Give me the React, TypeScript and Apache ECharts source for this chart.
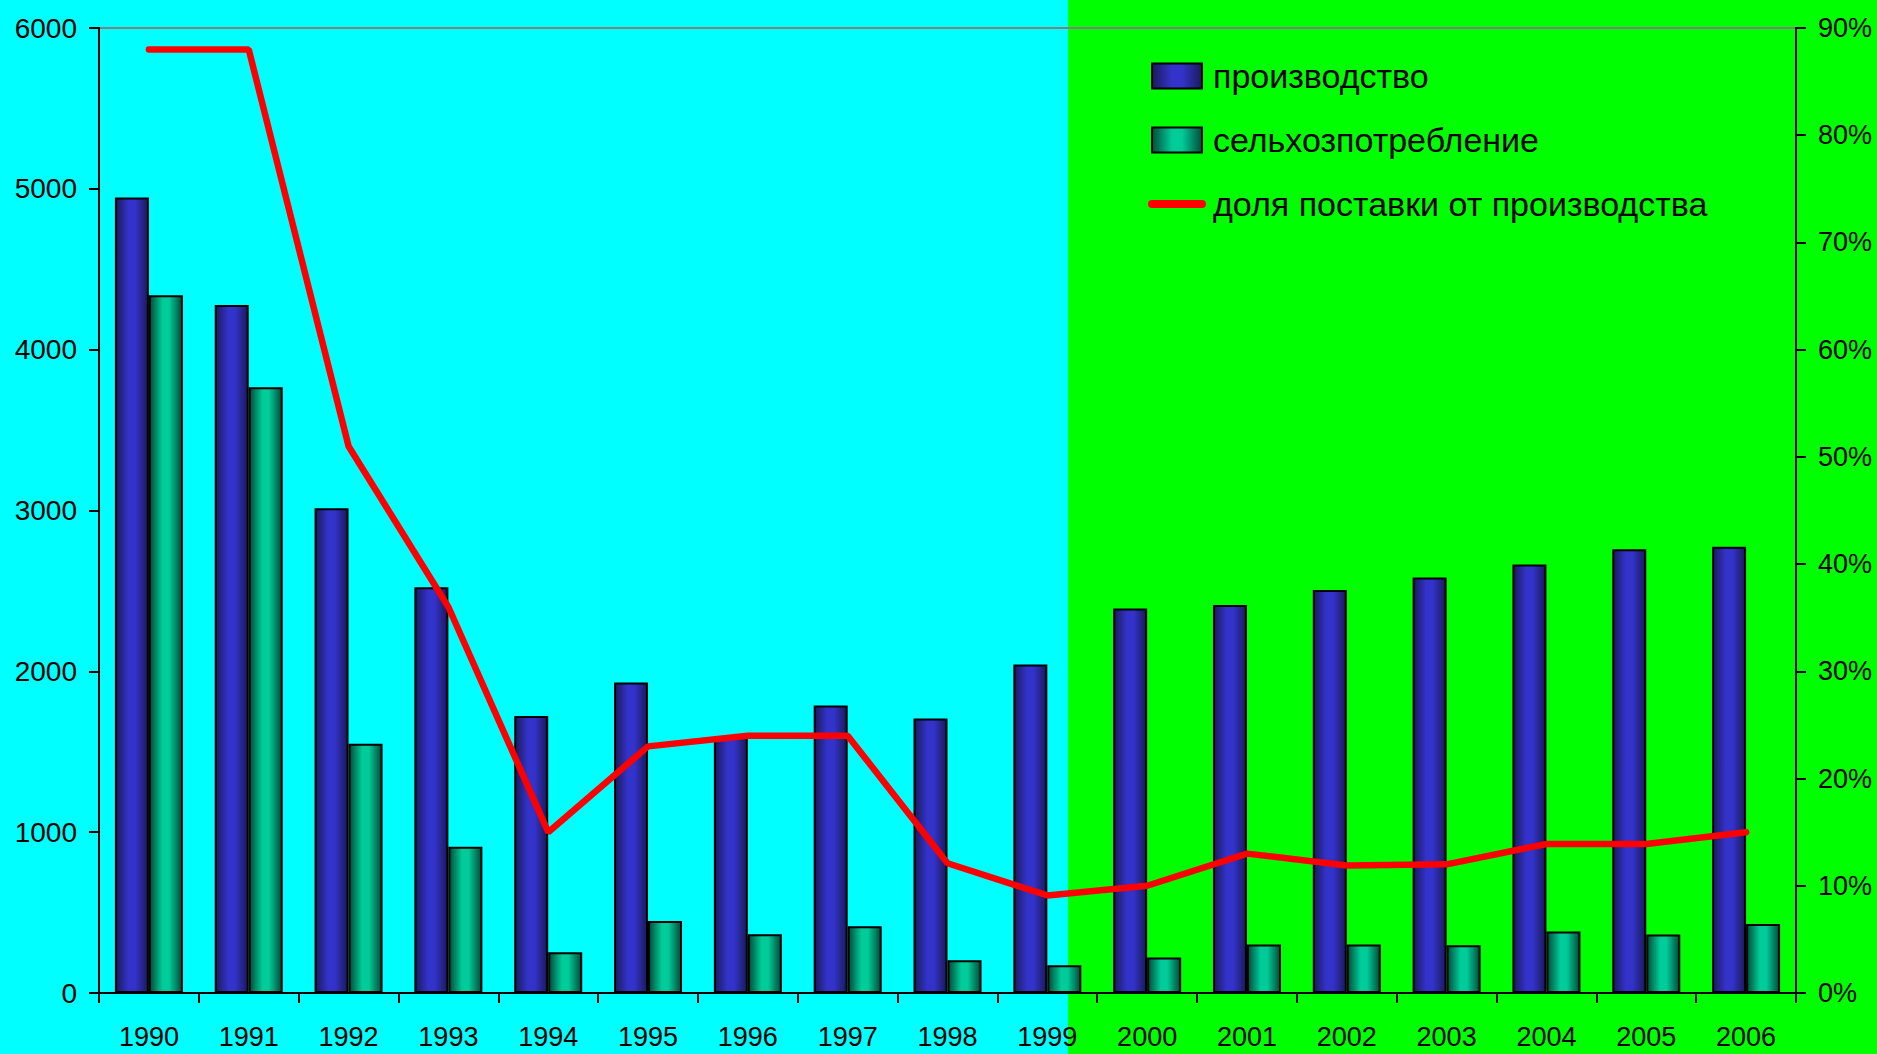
import React, { useEffect, useRef } from "react";
import * as echarts from "echarts";

const years = ["1990", "1991", "1992", "1993", "1994", "1995", "1996", "1997", "1998", "1999", "2000", "2001", "2002", "2003", "2004", "2005", "2006"];
const production = [4946, 4277, 3014, 2523, 1723, 1930, 1590, 1788, 1707, 2043, 2391, 2412, 2505, 2584, 2665, 2759, 2775];
const agriConsumption = [4339, 3767, 1550, 910, 253, 448, 365, 415, 203, 172, 220, 301, 301, 297, 383, 363, 429];
const supplyShare = [88, 88, 51, 36, 15, 23, 24, 24, 12.1, 9.1, 10, 13, 11.9, 12, 13.9, 13.9, 15];

const seriesNames = ["производство", "сельхозпотребление", "доля поставки от производства"];
const leftTicks = { min: 0, max: 6000, interval: 1000 };
const rightTicks = { min: 0, max: 90, interval: 10 };

const FONT = "'Liberation Sans', Arial, sans-serif";

export default function App() {
  const ref = useRef<HTMLDivElement>(null);
  useEffect(() => {
    if (!ref.current) return;
    const chart = echarts.init(ref.current, null, { renderer: "svg" });
    const blueGrad = new echarts.graphic.LinearGradient(0, 0, 1, 0, [
      { offset: 0, color: "#1a1a5a" },
      { offset: 0.4, color: "#3333cc" },
      { offset: 0.6, color: "#3333cc" },
      { offset: 1, color: "#1a1a5a" },
    ]);
    const greenGrad = new echarts.graphic.LinearGradient(0, 0, 1, 0, [
      { offset: 0, color: "#004d3a" },
      { offset: 0.4, color: "#00cc99" },
      { offset: 0.6, color: "#00cc99" },
      { offset: 1, color: "#004d3a" },
    ]);
    const axisLine = { show: true, lineStyle: { color: "#000", width: 2 } };
    const tick = { show: true, length: 10, lineStyle: { color: "#000", width: 2 } };
    chart.setOption({
      animation: false,
      backgroundColor: "#00ff00",
      textStyle: { fontFamily: FONT, color: "#000" },
      graphic: [
        {
          type: "rect",
          left: 0,
          top: 0,
          silent: true,
          z: -10,
          shape: { width: 1068, height: 1054 },
          style: { fill: "#00ffff" },
        },
      ],
      grid: {
        left: 99,
        right: 81,
        top: 28,
        bottom: 61,
        outerBoundsMode: "none",
        containLabel: false,
        show: true,
        backgroundColor: "transparent",
        borderColor: "#808080",
        borderWidth: 2,
      },
      legend: {
        orient: "vertical",
        left: 1143,
        top: 52,
        itemWidth: 50,
        itemHeight: 25,
        itemGap: 26,
        textStyle: { fontFamily: FONT, fontSize: 34, color: "#000", lineHeight: 38, padding: [0, 0, 0, 6] },
        data: [
          { name: seriesNames[0], icon: "rect" },
          { name: seriesNames[1], icon: "rect" },
          {
            name: seriesNames[2],
            lineStyle: { width: 8, cap: "round" },
            itemStyle: { color: "transparent", borderWidth: 0, opacity: 0 },
          },
        ],
      },
      xAxis: {
        type: "category",
        data: years,
        axisLine,
        axisTick: tick,
        axisLabel: { interval: 0, fontFamily: FONT, fontSize: 27, color: "#000", margin: 30 },
        splitLine: { show: false },
      },
      yAxis: [
        {
          type: "value",
          ...leftTicks,
          position: "left",
          axisLine,
          axisTick: tick,
          axisLabel: { fontFamily: FONT, fontSize: 28, color: "#000", margin: 22, formatter: (v: number) => String(v) },
          splitLine: { show: false },
        },
        {
          type: "value",
          ...rightTicks,
          position: "right",
          axisLine,
          axisTick: tick,
          axisLabel: { fontFamily: FONT, fontSize: 27, color: "#000", margin: 22, formatter: "{value}%" },
          splitLine: { show: false },
        },
      ],
      series: [
        {
          name: seriesNames[0],
          type: "bar",
          data: production,
          barWidth: 34,
          barGap: "0%",
          itemStyle: { color: blueGrad, borderColor: "#000", borderWidth: 2 },
        },
        {
          name: seriesNames[1],
          type: "bar",
          data: agriConsumption,
          barWidth: 34,
          barGap: "0%",
          itemStyle: { color: greenGrad, borderColor: "#000", borderWidth: 2 },
        },
        {
          name: seriesNames[2],
          type: "line",
          yAxisIndex: 1,
          data: supplyShare,
          symbol: "none",
          z: 5,
          itemStyle: { color: "#ff0000" },
          lineStyle: { color: "#ff0000", width: 6.5, cap: "round" },
        },
      ],
    });
    return () => chart.dispose();
  }, []);
  return <div ref={ref} style={{ position: "absolute", left: 0, top: 0, width: 1877, height: 1054 }} />;
}
